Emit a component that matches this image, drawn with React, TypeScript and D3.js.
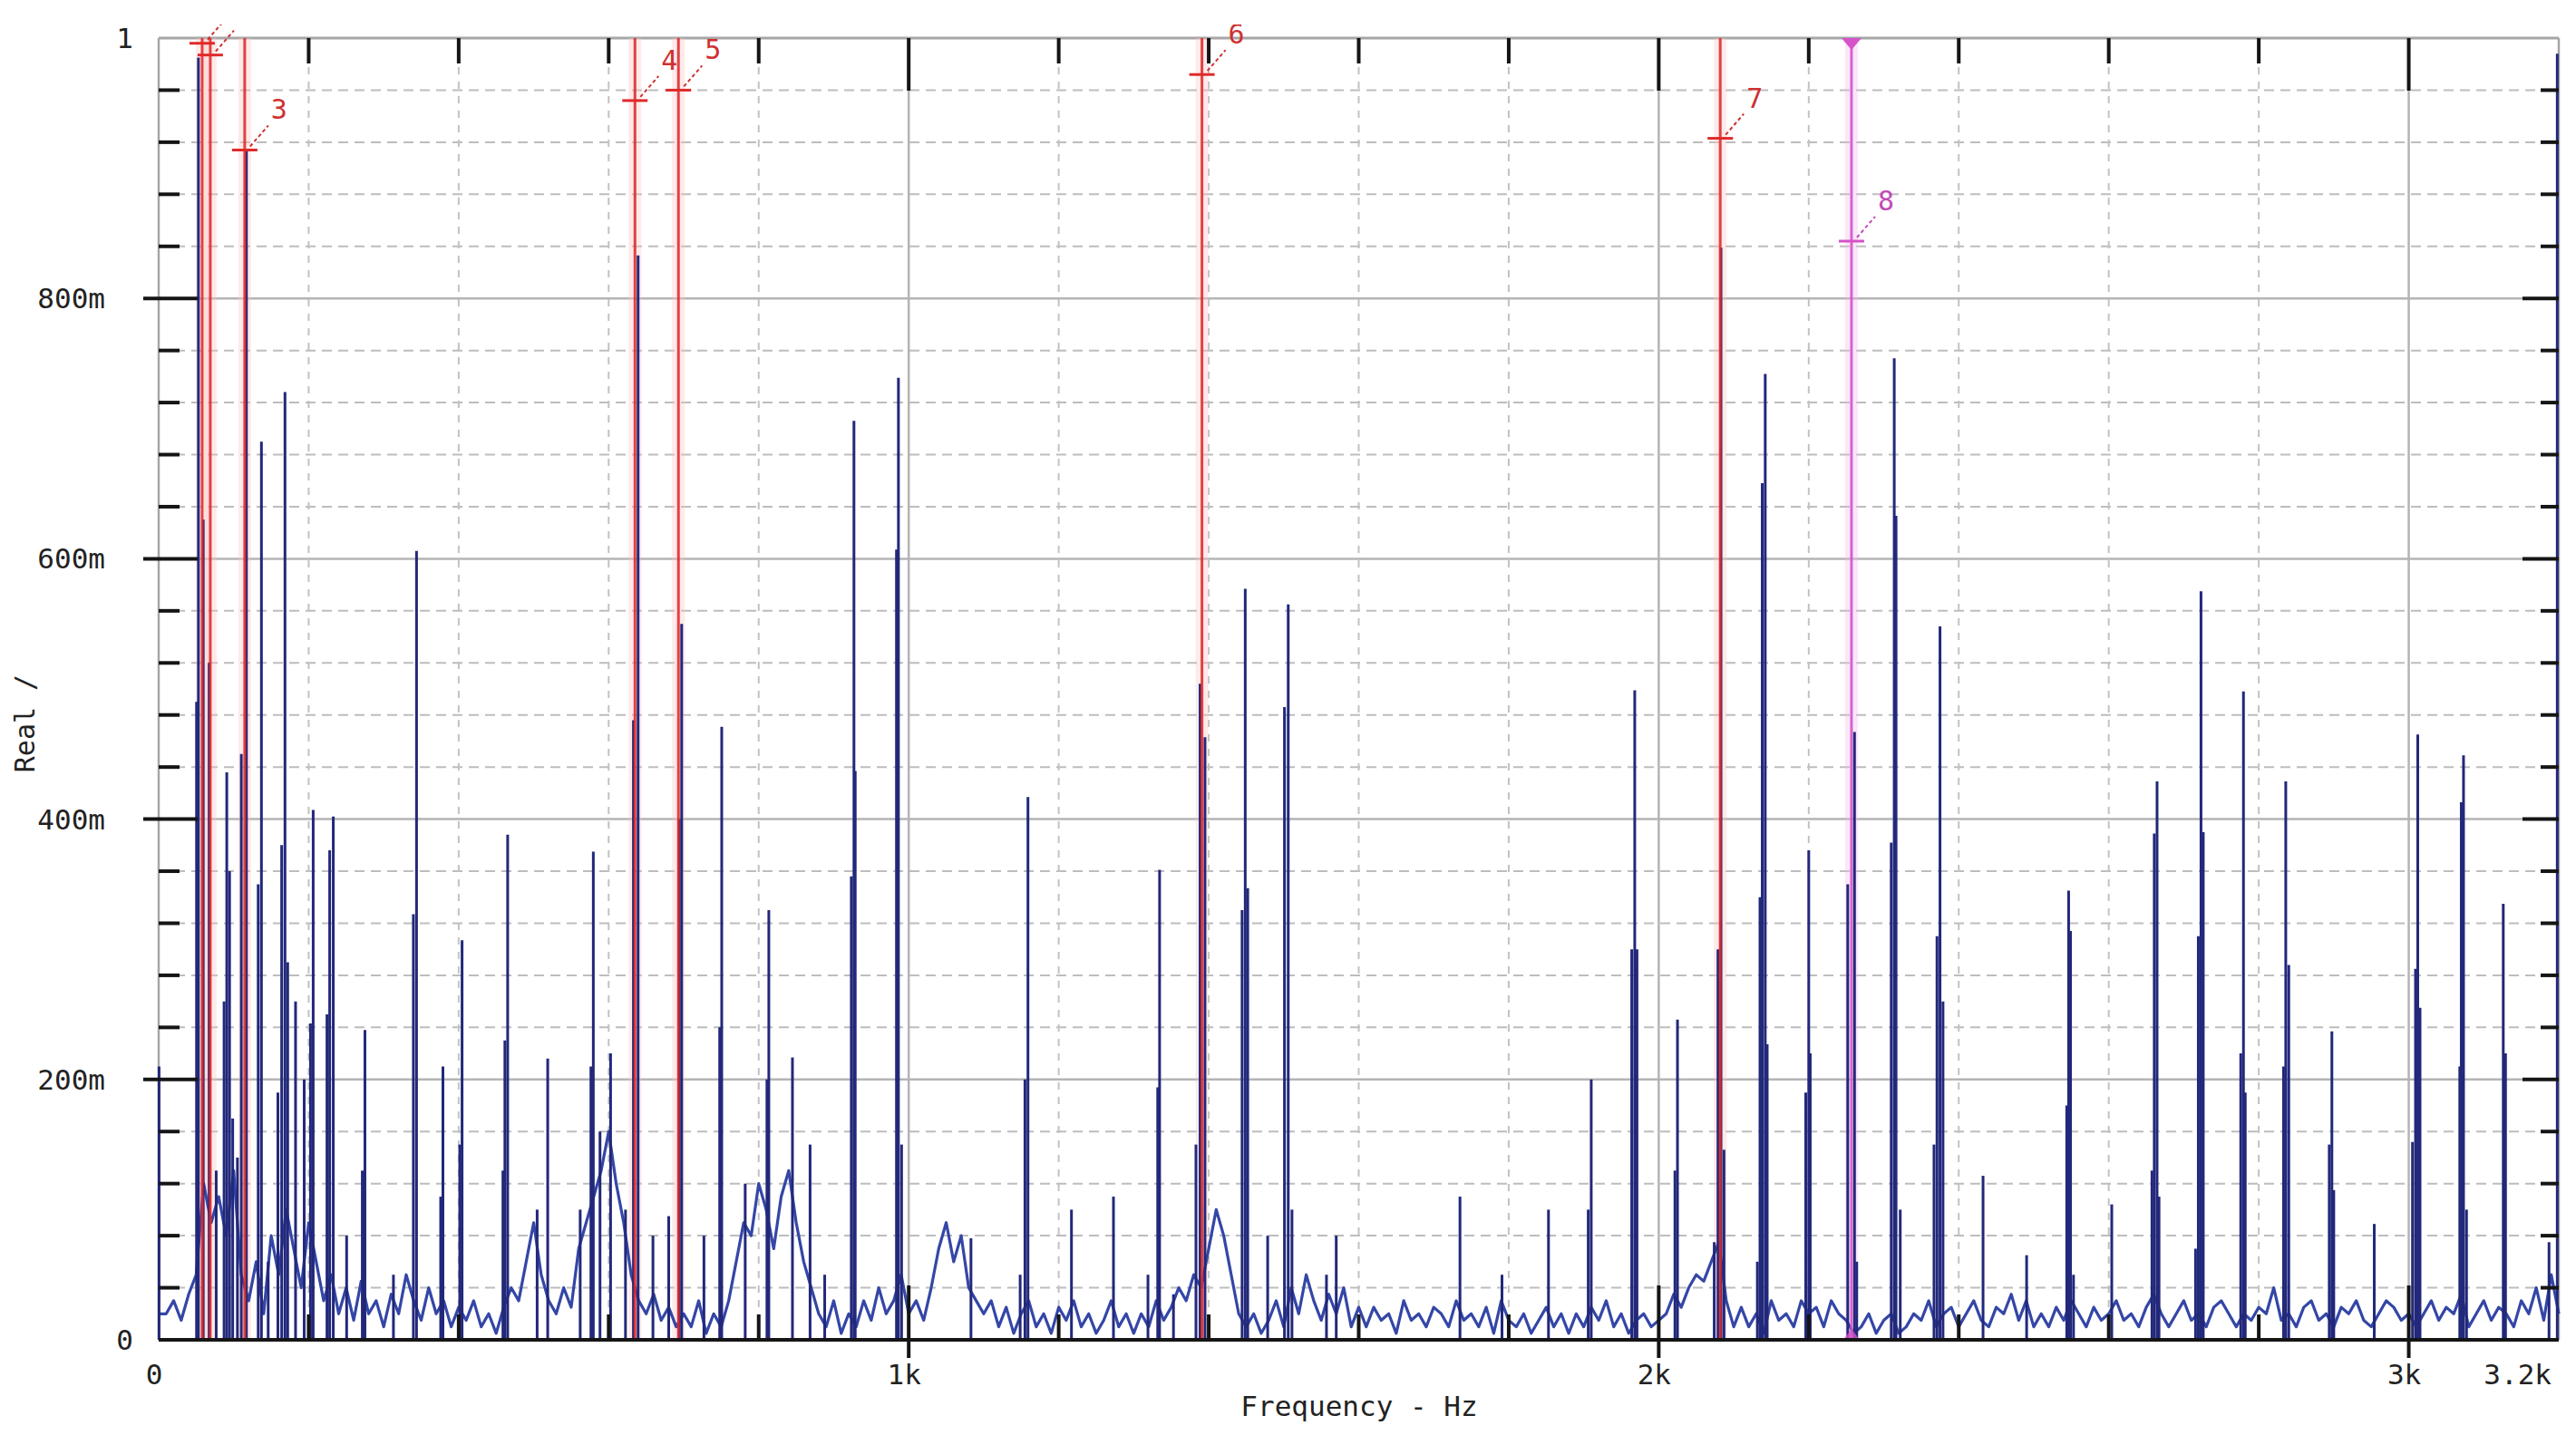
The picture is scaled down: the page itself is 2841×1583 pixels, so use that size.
import React from "react";
import * as d3 from "d3";

const W = 2841;
const H = 1583;

// spectrum floor, one reading every 10 Hz from 0 Hz to 3.2 kHz
const floorStep = 10;
const floorLevels = [
  0.02, 0.02, 0.03, 0.015, 0.035, 0.05, 0.12, 0.09, 0.11, 0.08, 0.13,
  0.05, 0.03, 0.06, 0.02, 0.08, 0.05, 0.1, 0.07, 0.04, 0.09,
  0.06, 0.03, 0.05, 0.02, 0.04, 0.015, 0.045, 0.02, 0.03, 0.01,
  0.035, 0.02, 0.05, 0.03, 0.015, 0.04, 0.02, 0.03, 0.01, 0.025,
  0.015, 0.03, 0.01, 0.02, 0.005, 0.025, 0.04, 0.03, 0.06, 0.09,
  0.05, 0.03, 0.02, 0.04, 0.025, 0.07, 0.09, 0.11, 0.13, 0.16,
  0.12, 0.09, 0.05, 0.03, 0.02, 0.035, 0.015, 0.025, 0.01, 0.02,
  0.01, 0.03, 0.005, 0.02, 0.01, 0.03, 0.06, 0.09, 0.08, 0.12,
  0.1, 0.07, 0.11, 0.13, 0.09, 0.06, 0.04, 0.02, 0.01, 0.03,
  0.005, 0.02, 0.01, 0.03, 0.015, 0.04, 0.02, 0.03, 0.05, 0.02,
  0.03, 0.015, 0.04, 0.07, 0.09, 0.06, 0.08, 0.04, 0.03, 0.02,
  0.03, 0.01, 0.025, 0.005, 0.02, 0.03, 0.01, 0.02, 0.005, 0.025,
  0.015, 0.03, 0.01, 0.02, 0.005, 0.015, 0.03, 0.01, 0.02, 0.005,
  0.02, 0.01, 0.03, 0.015, 0.025, 0.04, 0.03, 0.05, 0.04, 0.07,
  0.1, 0.08, 0.05, 0.02, 0.01, 0.02, 0.005, 0.015, 0.03, 0.01,
  0.04, 0.02, 0.05, 0.03, 0.015, 0.035, 0.02, 0.04, 0.01, 0.025,
  0.01, 0.025, 0.015, 0.02, 0.005, 0.03, 0.015, 0.02, 0.01, 0.025,
  0.02, 0.01, 0.03, 0.015, 0.02, 0.01, 0.025, 0.005, 0.03, 0.015,
  0.01, 0.02, 0.005, 0.015, 0.025, 0.01, 0.02, 0.005, 0.02, 0.01,
  0.025, 0.015, 0.03, 0.01, 0.02, 0.005, 0.015, 0.02, 0.01, 0.015,
  0.02, 0.035, 0.025, 0.04, 0.05, 0.045, 0.06, 0.075, 0.03, 0.01,
  0.025, 0.01, 0.02, 0.005, 0.03, 0.015, 0.02, 0.01, 0.03, 0.02,
  0.025, 0.01, 0.03, 0.02, 0.015, 0.005, 0.01, 0.02, 0.005, 0.015,
  0.02, 0.005, 0.01, 0.02, 0.015, 0.03, 0.01, 0.02, 0.025, 0.01,
  0.02, 0.03, 0.015, 0.01, 0.025, 0.02, 0.035, 0.015, 0.03, 0.01,
  0.02, 0.01, 0.025, 0.015, 0.03, 0.02, 0.01, 0.025, 0.015, 0.02,
  0.03, 0.015, 0.02, 0.01, 0.025, 0.035, 0.02, 0.01, 0.02, 0.03,
  0.015, 0.02, 0.01, 0.025, 0.03, 0.02, 0.01, 0.02, 0.015, 0.025,
  0.02, 0.04, 0.015, 0.02, 0.01, 0.025, 0.03, 0.015, 0.02, 0.01,
  0.025, 0.02, 0.03, 0.015, 0.01, 0.02, 0.03, 0.025, 0.015, 0.02,
  0.01, 0.02, 0.03, 0.015, 0.025, 0.02, 0.035, 0.01, 0.02, 0.03,
  0.015, 0.025, 0.02, 0.01, 0.03, 0.02, 0.04, 0.015, 0.05, 0.02,
];

// spectral lines: [Hz, amplitude]
const peakLines: [number, number][] = [
  [0.5, 0.21], [50.5, 0.49], [53, 0.985], [59.4, 0.63], [67.3, 0.52],
  [76.7, 0.13], [87.2, 0.26], [90.8, 0.436], [94.5, 0.36], [98.7, 0.17],
  [105, 0.14], [110.2, 0.45], [117, 0.915], [132.7, 0.35], [137, 0.69],
  [146, 0.06], [159, 0.19], [164, 0.38], [168.4, 0.728], [172, 0.29],
  [182.5, 0.26], [194, 0.2], [202.4, 0.243], [206, 0.407], [224.4, 0.25],
  [228, 0.376], [232.8, 0.402], [250.6, 0.08], [271.5, 0.13], [275, 0.238],
  [313, 0.05], [339.6, 0.327], [343.8, 0.606], [376, 0.11], [379, 0.21],
  [401.4, 0.15], [404.5, 0.307], [459, 0.13], [461.6, 0.23], [465.3, 0.388],
  [504.6, 0.1], [518.7, 0.216], [562, 0.1], [576.3, 0.21], [579.5, 0.375],
  [588.4, 0.16], [602.5, 0.22], [622.4, 0.1], [633, 0.476], [639.2, 0.833],
  [659, 0.08], [680, 0.095], [694, 0.4], [697.3, 0.55], [727, 0.08],
  [748, 0.24], [750.7, 0.471], [782, 0.12], [811, 0.2], [813.5, 0.33],
  [845, 0.217], [868.5, 0.15], [888, 0.05], [923.5, 0.356], [927, 0.706],
  [928.7, 0.437], [983.7, 0.607], [986.3, 0.739], [990.5, 0.15], [1083, 0.078],
  [1148.6, 0.05], [1155, 0.2], [1159, 0.417], [1217, 0.1], [1273, 0.11],
  [1319, 0.05], [1332, 0.194], [1334.5, 0.361], [1353, 0.035], [1383, 0.15],
  [1388.5, 0.504], [1395, 0.463], [1444.5, 0.33], [1448.7, 0.577], [1452, 0.347],
  [1478.6, 0.08], [1501, 0.486], [1506, 0.565], [1511, 0.1], [1557, 0.05],
  [1570, 0.08], [1735, 0.11], [1791, 0.05], [1853, 0.1], [1906, 0.1],
  [1910, 0.2], [1964, 0.3], [1968, 0.499], [1971, 0.3], [2021.6, 0.13],
  [2025, 0.246], [2074, 0.075], [2079, 0.3], [2083, 0.839], [2087, 0.146],
  [2131.5, 0.06], [2135, 0.34], [2138, 0.658], [2142, 0.742], [2144.6, 0.227],
  [2196, 0.19], [2200, 0.376], [2202, 0.22], [2252, 0.35], [2261, 0.467],
  [2264, 0.06], [2310, 0.382], [2314, 0.754], [2316.4, 0.633], [2322, 0.1],
  [2367, 0.15], [2371, 0.31], [2375, 0.548], [2379, 0.26], [2432.4, 0.126],
  [2490.5, 0.065], [2544, 0.18], [2546.5, 0.345], [2549, 0.314], [2553, 0.05],
  [2604, 0.104], [2657.6, 0.13], [2660.7, 0.389], [2664.4, 0.429], [2667, 0.11],
  [2715.7, 0.07], [2719.4, 0.31], [2723, 0.575], [2726, 0.39], [2776, 0.22],
  [2779.6, 0.498], [2782, 0.19], [2833, 0.21], [2836, 0.429], [2840, 0.288],
  [2894, 0.15], [2897.5, 0.237], [2900, 0.115], [2954, 0.089], [3005, 0.152],
  [3009, 0.285], [3012, 0.465], [3015, 0.255], [3068, 0.21], [3070, 0.413],
  [3073, 0.449], [3077, 0.1], [3126, 0.335], [3129, 0.22], [3187, 0.075],
  [3198, 0.988],
];

// cursor markers
const markerIds = ["1", "2", "3", "4", "5", "6", "7", "8"];
const markerFreqs = [58, 68.8, 114.7, 635, 693, 1391, 2082, 2257];
const markerValues = [0.996, 0.987, 0.914, 0.952, 0.96, 0.972, 0.923, 0.844];

const xTickValues = [0, 1000, 2000, 3000, 3200];
const xTickLabels = ["0", "1k", "2k", "3k", "3.2k"];
const yTickValues = [0, 0.2, 0.4, 0.6, 0.8, 1];
const yTickLabels = ["0", "200m", "400m", "600m", "800m", "1"];

const FONT = "'DejaVu Sans Mono', 'Liberation Mono', monospace";
const CLIP_TOP = 27;

export default function App() {
  const x = d3.scaleLinear().domain([0, 3200]).range([175, 2822]);
  const y = d3.scaleLinear().domain([0, 1]).range([1478, 42]);
  const [x0, x1] = x.range();
  const [yb, yt] = y.range();

  const floorPath =
    d3
      .line<number>()
      .x((_, i) => x(i * floorStep))
      .y((d) => y(d))(floorLevels) || "";

  const yMinor = d3.range(1, 25).map((i) => ({ v: i * 0.04, major: i % 5 === 0 }));
  const xMinor = d3.range(1, 16).map((i) => ({ v: i * 200, major: i % 5 === 0 }));

  return (
    <svg
      width={W}
      height={H}
      style={{ position: "absolute", left: 0, top: 0, display: "block", background: "#fff" }}
      fontFamily={FONT}
    >
      <defs>
        <clipPath id="marker-clip">
          <rect x={0} y={CLIP_TOP} width={W} height={H - CLIP_TOP} />
        </clipPath>
      </defs>

      {/* grid */}
      <g>
        {yMinor.map((t) => (
          <line
            key={"gy" + t.v}
            x1={x0}
            x2={x1}
            y1={y(t.v)}
            y2={y(t.v)}
            stroke={t.major ? "#b4b4b4" : "#bdbdbd"}
            strokeWidth={t.major ? 2.5 : 2}
            strokeDasharray={t.major ? undefined : "11 7"}
          />
        ))}
        {xMinor.map((t) => (
          <line
            key={"gx" + t.v}
            x1={x(t.v)}
            x2={x(t.v)}
            y1={yt}
            y2={yb}
            stroke={t.major ? "#b4b4b4" : "#c2c2c2"}
            strokeWidth={t.major ? 2.5 : 2}
            strokeDasharray={t.major ? undefined : "8 8"}
          />
        ))}
      </g>

      {/* frame */}
      <line x1={x0} x2={x1} y1={yt} y2={yt} stroke="#a6a6a6" strokeWidth={3} />
      <line x1={x0} x2={x0} y1={yt} y2={yb} stroke="#a6a6a6" strokeWidth={2.5} />
      <line x1={x1} x2={x1} y1={yt} y2={yb} stroke="#a6a6a6" strokeWidth={2.5} />

      {/* marker halos */}
      {markerFreqs.map((f, i) => (
        <line
          key={"halo" + i}
          x1={x(f)}
          x2={x(f)}
          y1={yt}
          y2={yb}
          stroke={i === 7 ? "#f3b8ee" : "#ffc4c4"}
          strokeWidth={14}
          opacity={0.35}
        />
      ))}

      {/* spectrum */}
      <path d={floorPath} fill="none" stroke="#3446a6" strokeWidth={3.2} strokeLinejoin="round" />
      {peakLines.map(([f, a], i) => (
        <line
          key={"pk" + i}
          x1={x(f)}
          x2={x(f)}
          y1={y(0)}
          y2={y(a)}
          stroke="#22287a"
          strokeWidth={3}
        />
      ))}

      {/* markers */}
      <g clipPath="url(#marker-clip)">
        {markerFreqs.map((f, i) => {
          const mx = x(f);
          const my = y(markerValues[i]);
          const col = i === 7 ? "#d552c9" : "#df2a2a";
          const txt = i === 7 ? "#c44bb8" : "#cf3030";
          const labelY = my - 34;
          return (
            <g key={"mk" + i}>
              <line x1={mx} x2={mx} y1={yt} y2={yb} stroke={col} strokeWidth={3} opacity={0.88} />
              <line x1={mx - 14} x2={mx + 14} y1={my} y2={my} stroke={col} strokeWidth={3} />
              <line
                x1={mx + 6}
                y1={my - 4}
                x2={mx + 26}
                y2={my - 27}
                stroke={txt}
                strokeWidth={2}
                strokeDasharray="4 3"
              />
              {/* labels that sit above the plot window are cut off by the analyser */}
              {labelY - 23 > CLIP_TOP - 16 && (
                <text x={mx + 38} y={labelY} fontSize={30} fill={txt} textAnchor="middle">
                  {markerIds[i]}
                </text>
              )}
              {i === 7 && (
                <>
                  <path
                    d={`M${mx - 11},${yt} L${mx + 11},${yt} L${mx},${yt + 13} Z`}
                    fill={col}
                  />
                  <path
                    d={`M${mx - 9},${yb} L${mx + 9},${yb} L${mx},${yb - 12} Z`}
                    fill={col}
                    opacity={0.8}
                  />
                </>
              )}
            </g>
          );
        })}
      </g>

      {/* bottom axis */}
      <line x1={x0} x2={x1} y1={yb} y2={yb} stroke="#151515" strokeWidth={4} />

      {/* ticks */}
      <g stroke="#151515" strokeWidth={4}>
        {yMinor.map((t) => (
          <React.Fragment key={"ty" + t.v}>
            <line
              x1={t.major ? x0 - 17 : x0}
              x2={t.major ? x0 + 43 : x0 + 23}
              y1={y(t.v)}
              y2={y(t.v)}
            />
            <line x1={t.major ? x1 - 40 : x1 - 20} x2={x1} y1={y(t.v)} y2={y(t.v)} />
          </React.Fragment>
        ))}
        {xMinor.map((t) => (
          <React.Fragment key={"tx" + t.v}>
            <line x1={x(t.v)} x2={x(t.v)} y1={yt} y2={yt + (t.major ? 58 : 28)} />
            <line
              x1={x(t.v)}
              x2={x(t.v)}
              y1={yb - (t.major ? 60 : 28)}
              y2={yb + (t.major ? 20 : 0)}
            />
          </React.Fragment>
        ))}
      </g>

      {/* tick labels */}
      <g fontSize={31} fill="#222">
        {yTickValues.map((v, i) => (
          <text
            key={"ly" + i}
            x={yTickLabels[i].length > 1 ? 116 : 147}
            y={y(v) + 11}
            textAnchor="end"
          >
            {yTickLabels[i]}
          </text>
        ))}
        {xTickValues.map((v, i) => {
          const last = i === xTickValues.length - 1;
          return (
            <text
              key={"lx" + i}
              x={last ? x(v) - 8 : x(v) - 5}
              y={1527}
              textAnchor={last ? "end" : "middle"}
            >
              {xTickLabels[i]}
            </text>
          );
        })}
      </g>

      {/* axis titles */}
      <text x={1499} y={1562} fontSize={31} fill="#222" textAnchor="middle">
        Frequency - Hz
      </text>
      <text
        transform="translate(38,798) rotate(-90)"
        fontSize={30}
        fill="#222"
        textAnchor="middle"
      >
        Real /
      </text>
    </svg>
  );
}
